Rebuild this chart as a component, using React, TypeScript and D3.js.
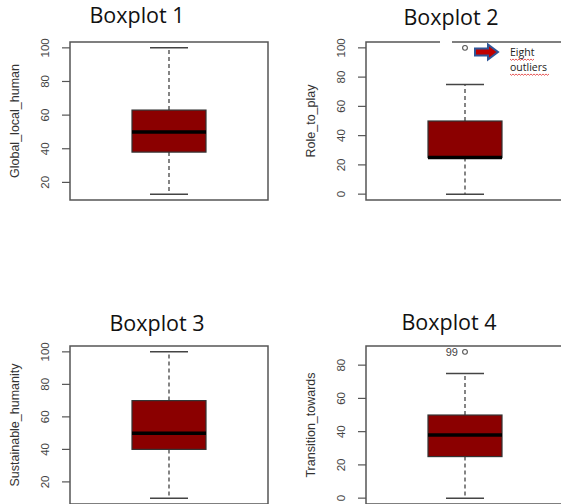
import React from "react";
import * as d3 from "d3";

const titles = ["Boxplot 1", "Boxplot 2", "Boxplot 3", "Boxplot 4"];
const variables = ["Global_local_human", "Role_to_play", "Sustainable_humanity", "Transition_towards"];
const whiskerLow = [13, 0, 10, 0];
const q1 = [38, 25, 40, 25];
const median = [50, 25, 50, 38];
const q3 = [63, 50, 70, 50];
const whiskerHigh = [100, 75, 100, 75];
const outliers: number[][] = [[], [100], [], [88]];
const outlierLabels: string[][] = [[], [""], [], ["99"]];
const tickValues: number[][] = [
  [20, 40, 60, 80, 100],
  [0, 20, 40, 60, 80, 100],
  [20, 40, 60, 80, 100],
  [0, 20, 40, 60, 80],
];
const noteLines = ["Eight", "outliers"];

const W = 561;
const H = 504;
const panelLeft = [70, 366, 70, 366];
const panelTop = [42, 42, 346, 346];
const panelW = 198;
const panelH = 158;
const titlePos = [
  [137, 23],
  [451, 25],
  [157, 331],
  [449, 330],
];

function Panel({ i }: { i: number }) {
  const left = panelLeft[i];
  const top = panelTop[i];
  const lo = Math.min(whiskerLow[i], ...outliers[i]);
  const hi = Math.max(whiskerHigh[i], ...outliers[i]);
  const pad = (hi - lo) * 0.04;
  const y = d3.scaleLinear().domain([lo - pad, hi + pad]).range([top + panelH, top]);
  const x = d3.scaleLinear().domain([0, 2]).range([left, left + panelW]);
  const cx = x(1);
  const bw = 37;
  const cw = 19;
  const gray = "#444";
  return (
    <g>
      <text
        x={titlePos[i][0]}
        y={titlePos[i][1]}
        textAnchor="middle"
        fontFamily="'Open Sans', sans-serif"
        fontSize={21.5}
        fill="#111"
      >
        {titles[i]}
      </text>
      {/* whiskers */}
      <line x1={cx} x2={cx} y1={y(q3[i])} y2={y(whiskerHigh[i])} stroke={gray} strokeWidth={1.3} strokeDasharray="4,3" />
      <line x1={cx} x2={cx} y1={y(q1[i])} y2={y(whiskerLow[i])} stroke={gray} strokeWidth={1.3} strokeDasharray="4,3" />
      <line x1={cx - cw} x2={cx + cw} y1={y(whiskerHigh[i])} y2={y(whiskerHigh[i])} stroke={gray} strokeWidth={1.5} />
      <line x1={cx - cw} x2={cx + cw} y1={y(whiskerLow[i])} y2={y(whiskerLow[i])} stroke={gray} strokeWidth={1.5} />
      {/* box */}
      <rect
        x={cx - bw}
        y={y(q3[i])}
        width={bw * 2}
        height={y(q1[i]) - y(q3[i])}
        fill="#8b0000"
        stroke="#333"
        strokeWidth={1.2}
      />
      <line x1={cx - bw} x2={cx + bw} y1={y(median[i])} y2={y(median[i])} stroke="#000" strokeWidth={3.5} />
      {/* outliers */}
      {outliers[i].map((v, k) => (
        <g key={k}>
          <circle cx={cx} cy={y(v)} r={2.4} fill="none" stroke="#555" strokeWidth={1.1} />
          {outlierLabels[i][k] ? (
            <text
              x={cx - 7}
              y={y(v) + 4}
              textAnchor="end"
              fontFamily="'Liberation Sans', Arial, sans-serif"
              fontSize={11}
              fill="#444"
            >
              {outlierLabels[i][k]}
            </text>
          ) : null}
        </g>
      ))}
      {/* frame */}
      <rect x={left} y={top} width={panelW} height={panelH} fill="none" stroke="#555" strokeWidth={1.5} />
      {/* axis ticks */}
      {tickValues[i].map((t) => (
        <g key={t}>
          <line x1={left - 8} x2={left} y1={y(t)} y2={y(t)} stroke="#555" strokeWidth={1.2} />
          <text
            transform={`translate(${left - 21},${y(t)}) rotate(-90)`}
            textAnchor="middle"
            fontFamily="'Liberation Sans', Arial, sans-serif"
            fontSize={11.5}
            fill="#444"
          >
            {t}
          </text>
        </g>
      ))}
      <text
        transform={`translate(${left - 51},${top + panelH / 2}) rotate(-90)`}
        textAnchor="middle"
        fontFamily="'Liberation Sans', Arial, sans-serif"
        fontSize={12.5}
        fill="#333"
      >
        {variables[i]}
      </text>
    </g>
  );
}

function Wavy({ x0, x1, yy }: { x0: number; x1: number; yy: number }) {
  const pts: [number, number][] = [];
  for (let xx = x0, k = 0; xx <= x1; xx += 1.5, k++) pts.push([xx, yy + (k % 2 === 0 ? 0 : 1.3)]);
  return <path d={d3.line()(pts) || ""} fill="none" stroke="#e03030" strokeWidth={0.8} />;
}

export default function App() {
  const ax = 475;
  const ay = 52;
  const arrow: [number, number][] = [
    [ax, ay - 3.5],
    [ax + 13, ay - 3.5],
    [ax + 13, ay - 7.5],
    [ax + 23, ay],
    [ax + 13, ay + 7.5],
    [ax + 13, ay + 3.5],
    [ax, ay + 3.5],
  ];
  return (
    <svg
      width={W}
      height={H}
      style={{ position: "absolute", left: 0, top: 0, background: "#fff" }}
    >
      <rect x={0} y={0} width={W} height={H} fill="#fff" />
      {titles.map((_, i) => (
        <Panel key={i} i={i} />
      ))}
      {/* erased patch on panel 2 frame */}
      <rect x={440} y={40} width={12} height={4} fill="#fff" />
      <path
        d={(d3.line()(arrow) || "") + "Z"}
        fill="#c00000"
        stroke="#2f5597"
        strokeWidth={2}
        strokeLinejoin="miter"
      />
      {noteLines.map((s, k) => (
        <text
          key={s}
          x={510}
          y={56 + k * 15}
          fontFamily="'Open Sans', sans-serif"
          fontSize={10.5}
          fill="#222"
        >
          {s}
        </text>
      ))}
      <Wavy x0={510} x1={534} yy={59} />
      <Wavy x0={510} x1={549} yy={74} />
    </svg>
  );
}
